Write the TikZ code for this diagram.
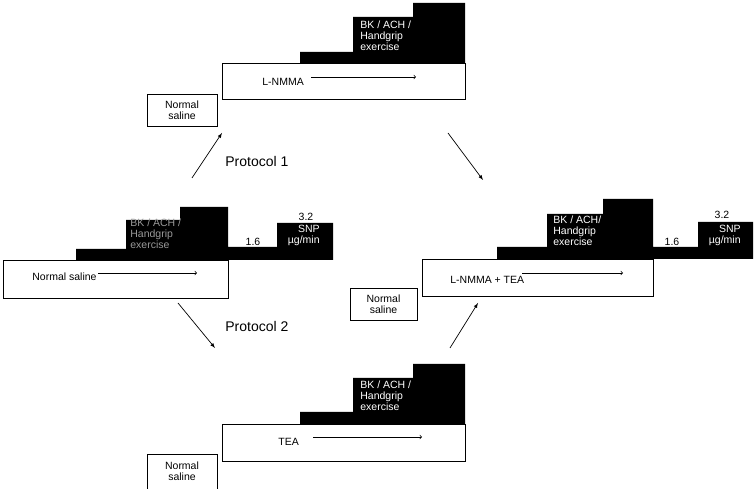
\documentclass[tikz,border=0pt]{standalone}
\usepackage{fontspec}
\setmainfont{Liberation Sans}
\begin{document}
\begin{tikzpicture}[x=1pt, y=1pt, line width=0.7pt,
        txt/.style={font=\fontsize{10.5}{11}\selectfont, inner sep=0pt},
        infusion/.style={txt, align=left, anchor=west, text=white},
        saline/.style={txt, draw, align=center, minimum width=70pt, minimum height=32pt},
        protocol/.style={font=\fontsize{14}{16}\selectfont, anchor=west, inner sep=0pt}]
    \useasboundingbox (0,0) rectangle (756,489);
    % top panel: L-NMMA
    \fill (300,426) -- (300,437) -- (353,437) -- (353,472) -- (413,472) -- (413,486) -- (465,486) -- (465,426) -- cycle;
    \draw (222,390) rectangle (465,426);
    \node[infusion] (bkA) at (360,453) {BK / ACH /\\Handgrip\\exercise};
    \node[txt, anchor=west] (drugA) at (262,407) {L-NMMA};
    \coordinate (startA) at (311,412);
    \coordinate (endA) at (416,412);
    \draw[->] (startA) -- (endA);
    \node[saline] (salineA) at (182,379) {Normal\\saline};
    % left panel: normal saline
    \fill (76,229) -- (76,240) -- (126,240) -- (126,269) -- (180,269) -- (180,282) -- (228,282) -- (228,242)
        -- (277,242) -- (277,266) -- (333,266) -- (333,229) -- cycle;
    \draw (3,191) rectangle (228,229);
    \node[infusion, text=white!60!black] (bkB) at (130,255) {BK / ACH /\\Handgrip\\exercise};
    \node[txt] (lowB) at (253,247) {1.6};
    \node[txt] (highB) at (306,272) {3.2};
    \node[txt, align=right, anchor=east, text=white] (snpB) at (320,254) {SNP\\µg/min};
    \node[txt, anchor=west] (drugB) at (32,212) {Normal saline};
    \coordinate (startB) at (98,216);
    \coordinate (endB) at (197,216);
    \draw[->] (startB) -- (endB);
    % right panel: L-NMMA + TEA
    \fill (497,230) -- (497,242) -- (547,242) -- (547,275) -- (603,275) -- (603,290) -- (653,290) -- (653,242)
        -- (698,242) -- (698,267) -- (753,267) -- (753,230) -- cycle;
    \draw (422,193) rectangle (653,230);
    \node[infusion] (bkC) at (553,258) {BK / ACH/\\Handgrip\\exercise};
    \node[txt] (lowC) at (672,247) {1.6};
    \node[txt] (highC) at (722,274) {3.2};
    \node[txt, align=right, anchor=east, text=white] (snpC) at (741,254) {SNP\\µg/min};
    \node[txt, anchor=west] (drugC) at (450,209) {L-NMMA + TEA};
    \coordinate (startC) at (522,216);
    \coordinate (endC) at (623,216);
    \draw[->] (startC) -- (endC);
    \node[saline, minimum width=67pt] (salineC) at (383.5,185) {Normal\\saline};
    % bottom panel: TEA
    \fill (300,65) -- (300,77) -- (353,77) -- (353,111) -- (413,111) -- (413,125) -- (465,125) -- (465,65) -- cycle;
    \draw (222,28) rectangle (465,65);
    \node[infusion] (bkD) at (360,93) {BK / ACH /\\Handgrip\\exercise};
    \node[txt, anchor=west] (drugD) at (278,47) {TEA};
    \coordinate (startD) at (313,52);
    \coordinate (endD) at (422,52);
    \draw[->] (startD) -- (endD);
    \node[txt, align=center] (salineD) at (182,18) {Normal\\saline};
    \draw (147,-3) |- (217,35) -- (217,-3);
    % protocols
    \node[protocol] (protA) at (225,327) {Protocol 1};
    \node[protocol] (protB) at (225,162) {Protocol 2};
    \coordinate (a1) at (192,311);
    \coordinate (a2) at (222,356);
    \coordinate (b1) at (448,356);
    \coordinate (b2) at (483,309);
    \coordinate (c1) at (178,186);
    \coordinate (c2) at (215,141);
    \coordinate (d1) at (450,141);
    \coordinate (d2) at (478,186);
    \draw[-latex] (a1) -- (a2);
    \draw[-latex] (b1) -- (b2);
    \draw[-latex] (c1) -- (c2);
    \draw[-latex] (d1) -- (d2);
\end{tikzpicture}
\end{document}
